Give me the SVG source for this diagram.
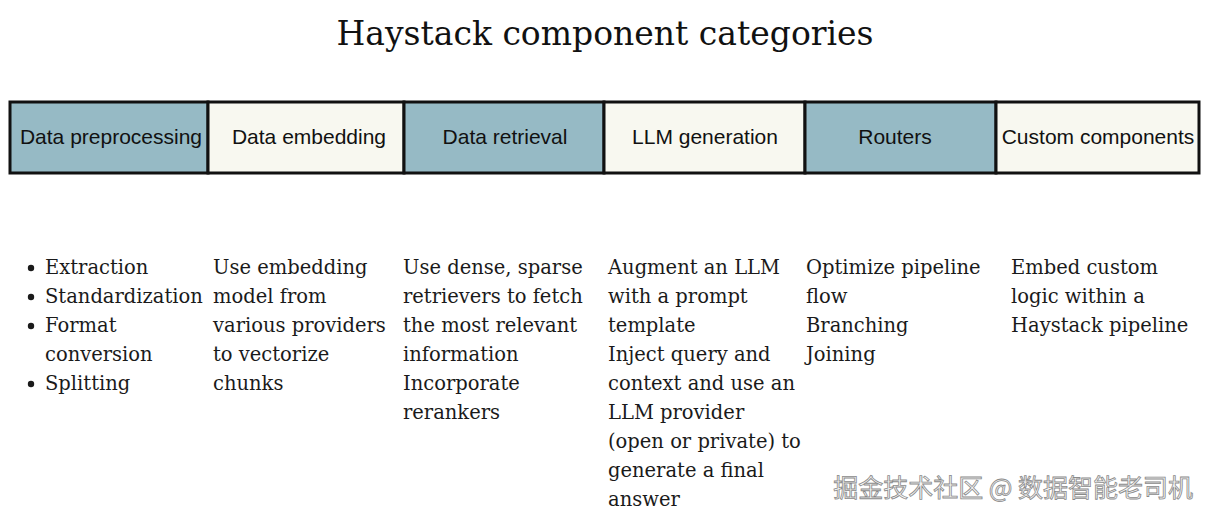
<svg xmlns="http://www.w3.org/2000/svg" width="1210" height="519" viewBox="0 0 1210 519">
<style>
.title{font-family:"DejaVu Serif",serif;font-size:33px;fill:#111}
.lbl{font-family:"Liberation Sans",Arial,sans-serif;font-size:21px;fill:#111;text-anchor:middle}
.body{font-family:"DejaVu Serif",serif;font-size:19.5px;fill:#1a1a1a}
.blue{fill:#96bac5}
.cream{fill:#f8f8f0}
.cell{stroke:#111;stroke-width:3}
.wm{font-family:"Noto Sans CJK SC",sans-serif;font-size:25px;fill:#f6f6f6;stroke:#8a8a8a;stroke-width:0.8}
</style>
<rect width="1210" height="519" fill="#fff"/>
<text class="title" x="605" y="45" text-anchor="middle">Haystack component categories</text>
<g id="connectors"></g>
<g id="cell-preprocessing"><rect class="cell blue" x="10" y="102" width="198" height="71"/><text class="lbl" x="111" y="144">Data preprocessing</text></g>
<g id="cell-embedding"><rect class="cell cream" x="208" y="102" width="196" height="71"/><text class="lbl" x="309" y="144">Data embedding</text></g>
<g id="cell-retrieval"><rect class="cell blue" x="404" y="102" width="200" height="71"/><text class="lbl" x="505" y="144">Data retrieval</text></g>
<g id="cell-llm"><rect class="cell cream" x="604" y="102" width="201" height="71"/><text class="lbl" x="705" y="144">LLM generation</text></g>
<g id="cell-routers"><rect class="cell blue" x="805" y="102" width="191" height="71"/><text class="lbl" x="895" y="144">Routers</text></g>
<g id="cell-custom"><rect class="cell cream" x="996" y="102" width="203" height="71"/><text class="lbl" x="1098" y="144">Custom components</text></g>
<g id="desc-preprocessing">
<circle cx="31" cy="268" r="3.2" fill="#1a1a1a"/><circle cx="31" cy="297" r="3.2" fill="#1a1a1a"/><circle cx="31" cy="326" r="3.2" fill="#1a1a1a"/><circle cx="31" cy="384" r="3.2" fill="#1a1a1a"/>
<text class="body" x="45" y="274">Extraction</text>
<text class="body" x="45" y="303">Standardization</text>
<text class="body" x="45" y="332">Format</text>
<text class="body" x="45" y="361">conversion</text>
<text class="body" x="45" y="390">Splitting</text>
</g>
<g id="desc-embedding">
<text class="body" x="213" y="274">Use embedding</text>
<text class="body" x="213" y="303">model from</text>
<text class="body" x="213" y="332">various providers</text>
<text class="body" x="213" y="361">to vectorize</text>
<text class="body" x="213" y="390">chunks</text>
</g>
<g id="desc-retrieval">
<text class="body" x="403" y="274">Use dense, sparse</text>
<text class="body" x="403" y="303">retrievers to fetch</text>
<text class="body" x="403" y="332">the most relevant</text>
<text class="body" x="403" y="361">information</text>
<text class="body" x="403" y="390">Incorporate</text>
<text class="body" x="403" y="419">rerankers</text>
</g>
<g id="desc-llm">
<text class="body" x="608" y="274">Augment an LLM</text>
<text class="body" x="608" y="303">with a prompt</text>
<text class="body" x="608" y="332">template</text>
<text class="body" x="608" y="361">Inject query and</text>
<text class="body" x="608" y="390">context and use an</text>
<text class="body" x="608" y="419">LLM provider</text>
<text class="body" x="608" y="448">(open or private) to</text>
<text class="body" x="608" y="477">generate a final</text>
<text class="body" x="608" y="506">answer</text>
</g>
<g id="desc-routers">
<text class="body" x="806" y="274">Optimize pipeline</text>
<text class="body" x="806" y="303">flow</text>
<text class="body" x="806" y="332">Branching</text>
<text class="body" x="806" y="361">Joining</text>
</g>
<g id="desc-custom">
<text class="body" x="1011" y="274">Embed custom</text>
<text class="body" x="1011" y="303">logic within a</text>
<text class="body" x="1011" y="332">Haystack pipeline</text>
</g>
<text class="wm" x="1193" y="497" text-anchor="end">掘金技术社区 @ 数据智能老司机</text>
</svg>
